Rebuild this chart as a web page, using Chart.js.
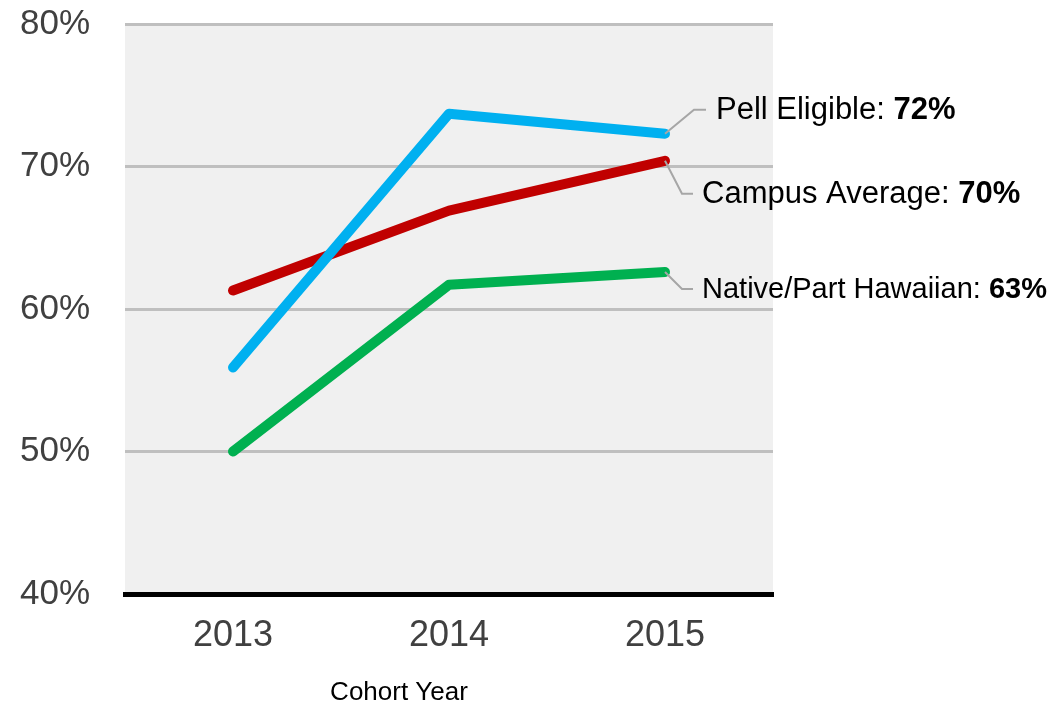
<!DOCTYPE html>
<html>
<head>
<meta charset="utf-8">
<script src="https://cdn.jsdelivr.net/npm/chart.js@4.4.1/dist/chart.umd.min.js"></script>
<style>
  html, body { margin: 0; padding: 0; background: #ffffff; }
  #wrap { width: 1056px; height: 707px; }
</style>
</head>
<body>
<div id="wrap"><canvas id="chart" width="1056" height="707"></canvas></div>
<script>
const years = ["2013", "2014", "2015"];
const seriesNames = ["Pell Eligible", "Campus Average", "Native/Part Hawaiian"];
const pellEligible = [55.9, 73.7, 72.3];
const campusAverage = [61.3, 66.9, 70.4];
const nativeHawaiian = [50.0, 61.7, 62.6];
const seriesColors = ["#00B0F0", "#C00000", "#00B050"];
const yTicks = [40, 50, 60, 70, 80];

const FONT = "'Liberation Sans', Arial, sans-serif";

// grey plot background
const plotBackground = {
    id: "plotBackground",
    beforeDraw(chart) {
        const { ctx, chartArea: a } = chart;
        ctx.save();
        ctx.fillStyle = "#F0F0F0";
        ctx.fillRect(a.left, a.top, a.right - a.left, a.bottom - a.top);
        ctx.restore();
    }
};

// end labels with leader lines + axis caption
const endLabels = {
    id: "endLabels",
    afterDatasetsDraw(chart) {
        const { ctx } = chart;
        // leader offsets from the last point: [elbow dx, elbow dy, end dx, text dx, font size]
        const leaders = [
            [29, -24, 41, 51, 31],
            [17, 33, 28, 37, 31],
            [17, 17, 28, 37, 29]
        ];
        ctx.save();
        chart.data.datasets.forEach((ds, i) => {
            const pts = chart.getDatasetMeta(i).data;
            const p = pts[pts.length - 1];
            const [ex, ey, endx, tx, fs] = leaders[i];
            ctx.strokeStyle = "#A6A6A6";
            ctx.lineWidth = 2;
            ctx.beginPath();
            ctx.moveTo(p.x, p.y);
            ctx.lineTo(p.x + ex, p.y + ey);
            ctx.lineTo(p.x + endx, p.y + ey);
            ctx.stroke();

            const name = seriesNames[i] + ": ";
            const val = Math.round(ds.data[ds.data.length - 1]) + "%";
            ctx.textBaseline = "middle";
            ctx.textAlign = "left";
            ctx.fillStyle = "#000000";
            ctx.font = fs + "px " + FONT;
            ctx.fillText(name, p.x + tx, p.y + ey + 1);
            const w = ctx.measureText(name).width;
            ctx.font = "bold " + fs + "px " + FONT;
            ctx.fillText(val, p.x + tx + w, p.y + ey + 1);
        });
        // x axis caption
        ctx.font = "26px " + FONT;
        ctx.fillStyle = "#000000";
        ctx.textAlign = "center";
        ctx.textBaseline = "middle";
        ctx.fillText("Cohort Year", 399, 693);
        ctx.restore();
    }
};

const ctx = document.getElementById("chart").getContext("2d");
new Chart(ctx, {
    type: "line",
    data: {
        labels: years,
        datasets: [pellEligible, campusAverage, nativeHawaiian].map((d, i) => ({
            label: seriesNames[i],
            data: d,
            borderColor: seriesColors[i],
            backgroundColor: seriesColors[i],
            borderWidth: 10,
            borderCapStyle: "round",
            borderJoinStyle: "round",
            pointRadius: 0,
            tension: 0,
            fill: false
        }))
    },
    options: {
        responsive: false,
        animation: false,
        events: [],
        layout: { padding: { top: 24, right: 283, bottom: 0, left: 0 } },
        plugins: {
            legend: { display: false },
            tooltip: { enabled: false }
        },
        scales: {
            x: {
                offset: true,
                grid: { display: false, drawTicks: false },
                border: { display: true, color: "#000000", width: 5 },
                ticks: {
                    color: "#404040",
                    font: { family: FONT, size: 36 },
                    padding: 20
                },
                afterFit(scale) { scale.height = 113; }
            },
            y: {
                min: 40,
                max: 80,
                afterBuildTicks(scale) { scale.ticks = yTicks.map(v => ({ value: v })); },
                grid: { color: "#BFBFBF", lineWidth: 3, drawTicks: false },
                border: { display: false },
                ticks: {
                    color: "#404040",
                    font: { family: FONT, size: 35 },
                    padding: 35,
                    callback: v => v + "%"
                },
                afterFit(scale) {
                    scale.width = 125;
                    scale.paddingTop = 0;
                    scale.paddingBottom = 0;
                }
            }
        }
    },
    plugins: [plotBackground, endLabels]
});
</script>
</body>
</html>
